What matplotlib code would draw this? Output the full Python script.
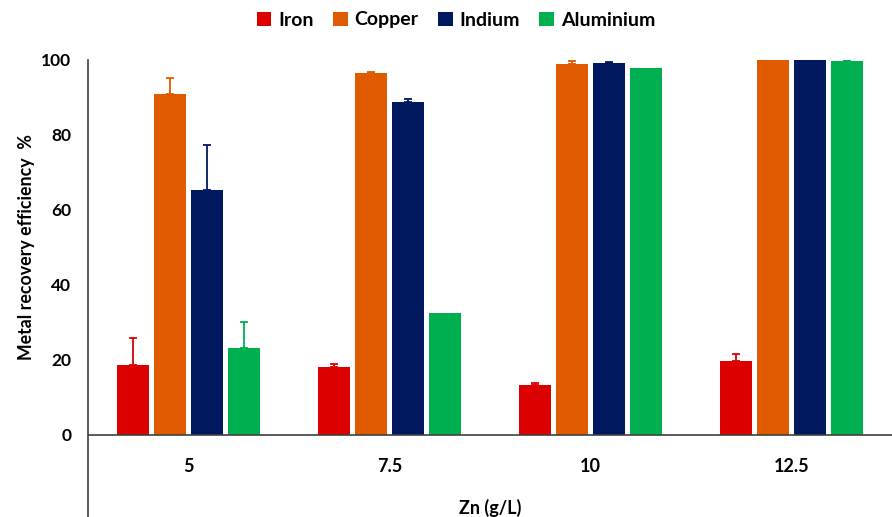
import numpy as np
import matplotlib
matplotlib.use("Agg")
import matplotlib.pyplot as plt

# Recovery efficiency (%) of each metal vs Zn concentration
zn_levels = ["5", "7.5", "10", "12.5"]
metals = ["Iron", "Copper", "Indium", "Aluminium"]

iron = [18.7, 18.2, 13.2, 19.8]
copper = [90.8, 96.6, 98.9, 99.9]
indium = [65.3, 88.8, 99.2, 100.0]
aluminium = [23.3, 32.6, 97.9, 99.6]

# upper error (std dev)
iron_err = [7.2, 0.8, 0.6, 1.9]
copper_err = [4.5, 0.1, 0.7, 0.1]
indium_err = [11.9, 0.7, 0.3, 0.0]
aluminium_err = [6.9, 0.0, 0.0, 0.2]

colors = ["#DD0000", "#E05A00", "#00195E", "#00B050"]

plt.rcParams['font.family'] = ['Lato', 'DejaVu Sans']
plt.rcParams['font.weight'] = 'bold'

fig = plt.figure(figsize=(8.92, 5.17), dpi=100)
ax = fig.add_axes([88 / 892, 0.0, 1 - 88 / 892, 1 - 60 / 517])

x = np.arange(len(zn_levels))
width = 0.155
step = 0.184
series = [iron, copper, indium, aluminium]
errs = [iron_err, copper_err, indium_err, aluminium_err]

for i, (vals, err, col, name) in enumerate(zip(series, errs, colors, metals)):
    pos = x + (i - 1.5) * step
    ax.bar(pos, vals, width, color=col, label=name, zorder=2)
    # skip the whisker where there is no spread
    err = np.asarray(err)
    keep = err > 0
    ax.errorbar(pos[keep], np.asarray(vals)[keep],
                yerr=[np.zeros(keep.sum()), err[keep]], fmt='none',
                ecolor=col, elinewidth=1.3, capsize=3, capthick=1.3, zorder=3)

ax.set_xlim(-0.5, 3.5)
ax.set_ylim(-21.9, 100)
ax.set_yticks([0, 20, 40, 60, 80, 100])
ax.tick_params(axis='y', length=0, pad=12, labelsize=12.5)
ax.set_xticks([])

for s in ["top", "right", "bottom"]:
    ax.spines[s].set_visible(False)
ax.spines["left"].set_color("#404040")
ax.spines["left"].set_linewidth(1.2)
ax.axhline(0, color="#404040", lw=1.2, zorder=4)

# category labels under the zero line
for xi, lab in zip(x, zn_levels):
    ax.text(xi, -8.5, lab, ha='center', va='center', fontsize=13, fontweight='bold')
ax.text(1.5, -19.6, "Zn (g/L)", ha='center', va='center', fontsize=13, fontweight='bold')

ax.text(-0.076, 50, "Metal recovery efficiency  %", rotation=90, ha='center', va='center',
        fontsize=12.8, fontweight='bold', transform=ax.get_yaxis_transform())

fig.legend(loc='center', bbox_to_anchor=(456 / 892, 1 - 20 / 517), ncol=4, frameon=False,
           handlelength=0.75, handleheight=0.75, handletextpad=0.35, columnspacing=1.0,
           prop={'size': 14, 'weight': 'bold'})

fig.savefig("out.png", dpi=100)
